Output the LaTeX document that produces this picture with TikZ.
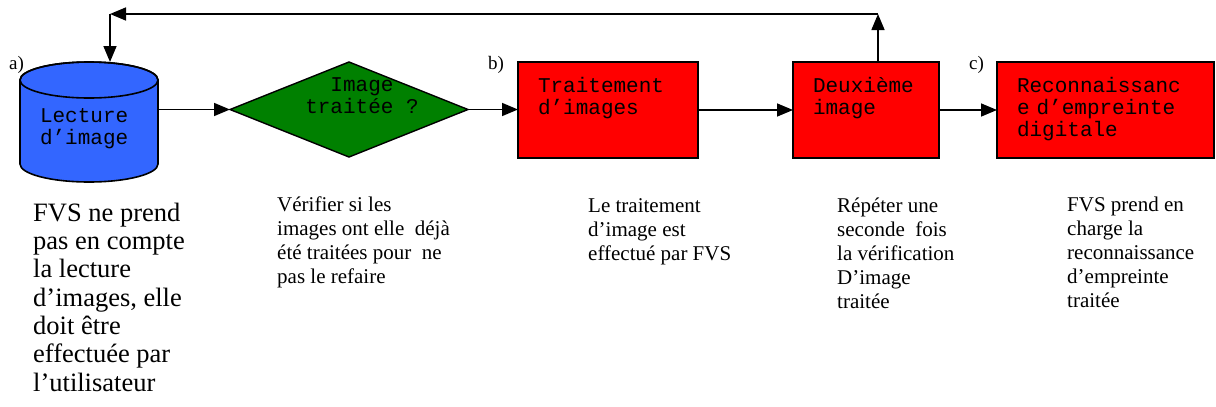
\documentclass[tikz,border=0pt]{standalone}
\usepackage{fontspec}
\setmainfont{Liberation Serif}
\newfontfamily\courfont{Liberation Mono}
\usetikzlibrary{shapes.geometric,arrows.meta}
\definecolor{cylblue}{RGB}{51,102,255}
\definecolor{diagreen}{RGB}{0,128,0}
\definecolor{boxred}{RGB}{255,0,0}
\begin{document}
\begin{tikzpicture}[x=1pt,y=-1pt,
  arr/.style={line width=1.6pt,-{Triangle[length=16pt,width=13pt]}},
  monotext/.style={font=\courfont\fontsize{21}{22}\selectfont},
  procbox/.style={monotext, draw, line width=2.2pt, fill=boxred, anchor=north west,
    outer sep=0pt, inner xsep=20pt, inner ysep=0pt, text height=30pt, text depth=66pt, align=left},
  caption/.style={anchor=base west, align=left, inner sep=0pt, font=\fontsize{21}{24}\selectfont},
  tag/.style={anchor=base west, inner sep=0pt, font=\fontsize{19}{22}\selectfont}]
\useasboundingbox (0,0) rectangle (1216,407);

% cylinder
\path[fill=cylblue, draw, line width=1.6pt] (20,80) -- (20,164)
  arc[start angle=180, end angle=360, x radius=69pt, y radius=18pt] -- (158,80)
  arc[start angle=0, end angle=180, x radius=69pt, y radius=18pt] -- cycle;
\draw[line width=1.6pt] (89,80) ellipse [x radius=69pt, y radius=18pt];
\node[monotext, anchor=north west, outer sep=0pt, inner xsep=20pt, inner ysep=0pt,
  text width=98pt, text height=60pt, text depth=60pt, align=left] (cyl) at (20,62) {Lecture\\d’image};

% decision
\node[diamond, draw, fill=diagreen, line width=1.4pt, minimum width=238pt, minimum height=95pt,
  inner sep=0pt, outer sep=0pt, aspect=2.5] (dia) at (349,109.5) {};
\node[monotext, align=center, anchor=base, inner sep=0pt] (diat) at (362,113) {Image\\traitée ?};

% process boxes
\node[procbox, text width=140pt] (trt) at (518,62) {Traitement\\d’images};
\node[procbox, text width=106pt] (deux) at (793,62) {Deuxième\\image};
\node[procbox, text width=177pt] (reco) at (997,62) {Reconnaissanc\\e d’empreinte\\digitale};

% tags
\node[tag] (ta) at (9,69) {a)};
\node[tag] (tb) at (488,69) {b)};
\node[tag] (tc) at (969,69) {c)};

% connectors
\draw[arr] (cyl.east |- dia.west) -- (dia.west);
\draw[arr] (dia.east) -- (trt.west |- dia.east);
\draw[arr] (trt.east) -- (deux.west);
\draw[arr] (deux.east) -- (reco.west);
\coordinate (fbr) at (878,14);
\coordinate (fbl) at (110,14);
\draw[arr] (fbr |- deux.north) -- (fbr);
\draw[arr] (fbr) -- (fbl);
\draw[arr] (fbl) -- (fbl |- cyl.north);

% captions (base anchor = baseline of the last line)
\node[caption, font=\fontsize{26.5}{28.3}\selectfont] (c1) at (33,391)
  {FVS ne prend\\pas en compte\\la lecture\\d’images, elle\\doit être\\effectuée par\\l’utilisateur};
\node[caption] (c2) at (277,283)
  {Vérifier si les\\images ont elle\ \ déjà\\été traitées pour\ \ ne\\pas le refaire};
\node[caption] (c3) at (588,260) {Le traitement\\d’image est\\effectué par FVS};
\node[caption] (c4) at (837,308) {Répéter une\\seconde\ \ fois\\la vérification\\D’image\\traitée};
\node[caption] (c5) at (1067,307) {FVS prend en\\charge la\\reconnaissance\\d’empreinte\\traitée};
\end{tikzpicture}
\end{document}
